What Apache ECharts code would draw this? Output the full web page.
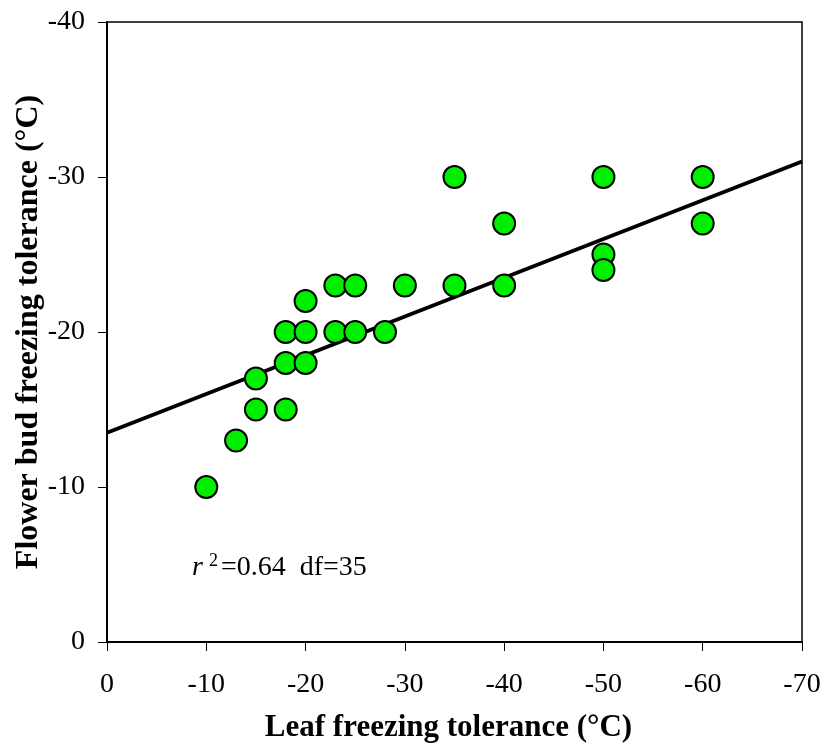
<!DOCTYPE html>
<html>
<head>
<meta charset="utf-8">
<script src="https://cdn.jsdelivr.net/npm/echarts@6/dist/echarts.min.js"></script>
<style>html,body{margin:0;padding:0;background:#fff}#c{width:828px;height:749px}</style>
</head>
<body>
<div id="c"></div>
<script>
// Leaf freezing tolerance (°C)
const leafX = [-10, -13, -15, -15, -18, -18, -18, -20, -20, -20, -23, -23, -25, -25, -28, -30, -35, -35, -40, -40, -50, -50, -50, -60, -60];
// Flower bud freezing tolerance (°C)
const budY  = [-10, -13, -17, -15, -20, -18, -15, -22, -20, -18, -23, -20, -23, -20, -20, -23, -30, -23, -27, -23, -30, -25, -24, -30, -27];
// Regression line endpoints
const fitX = [0, -70];
const fitY = [-13.5, -31.0];
const xTicks = [0, -10, -20, -30, -40, -50, -60, -70];
const yTicks = [0, -10, -20, -30, -40];

const font = '"Liberation Serif", "Times New Roman", serif';
const chart = echarts.init(document.getElementById('c'), null, {renderer: 'canvas'});
const pts = leafX.map((x, i) => [x, budY[i]]);
const line = fitX.map((x, i) => [x, fitY[i]]);

chart.setOption({
  animation: false,
  backgroundColor: '#fff',
  grid: {left: 107, top: 22, right: 26, bottom: 107, containLabel: false, outerBoundsMode: 'none',
         show: true, borderColor: '#000', borderWidth: 1.5, backgroundColor: 'transparent'},
  xAxis: {
    type: 'value', inverse: true, min: xTicks[xTicks.length - 1], max: xTicks[0], interval: 10,
    splitLine: {show: false},
    axisLine: {show: true, onZero: false, lineStyle: {color: '#000', width: 2}},
    axisTick: {show: true, inside: false, length: 9, lineStyle: {color: '#000', width: 1}},
    axisLabel: {color: '#000', fontFamily: font, fontSize: 28, margin: 29},
    name: 'Leaf freezing tolerance (°C)', nameLocation: 'middle', nameGap: 70, nameMoveOverlap: false,
    nameTextStyle: {color: '#000', fontFamily: font, fontSize: 31, fontWeight: 'bold', padding: [0, 12, 0, 0]}
  },
  yAxis: {
    type: 'value', inverse: true, min: yTicks[yTicks.length - 1], max: yTicks[0], interval: 10,
    splitLine: {show: false},
    axisLine: {show: true, onZero: false, lineStyle: {color: '#000', width: 2}},
    axisTick: {show: true, inside: false, length: 9, lineStyle: {color: '#000', width: 1}},
    axisLabel: {color: '#000', fontFamily: font, fontSize: 28, margin: 22},
    name: 'Flower bud freezing tolerance (°C)', nameLocation: 'middle', nameGap: 62, nameRotate: 90, nameMoveOverlap: false,
    nameTextStyle: {color: '#000', fontFamily: font, fontSize: 32, fontWeight: 'bold'}
  },
  series: [
    {
      type: 'line', data: line, symbol: 'none', silent: true,
      lineStyle: {color: '#000', width: 4}, z: 2
    },
    {
      type: 'scatter', data: pts, symbol: 'circle', symbolSize: 22,
      itemStyle: {color: '#00ee00', borderColor: '#000', borderWidth: 2, opacity: 1}, z: 3
    }
  ],
  graphic: [{
    type: 'text', left: 192, top: 552,
    style: {
      rich: {
        r: {fontFamily: font, fontSize: 28, fontStyle: 'italic', fill: '#000'},
        s: {fontFamily: font, fontSize: 18, fill: '#000', padding: [0, 3, 14, 6]},
        t: {fontFamily: font, fontSize: 28, fill: '#000'}
      },
      text: '{r|r}{s|2}{t|=0.64  df=35}'
    }
  }]
});
</script>
</body>
</html>
